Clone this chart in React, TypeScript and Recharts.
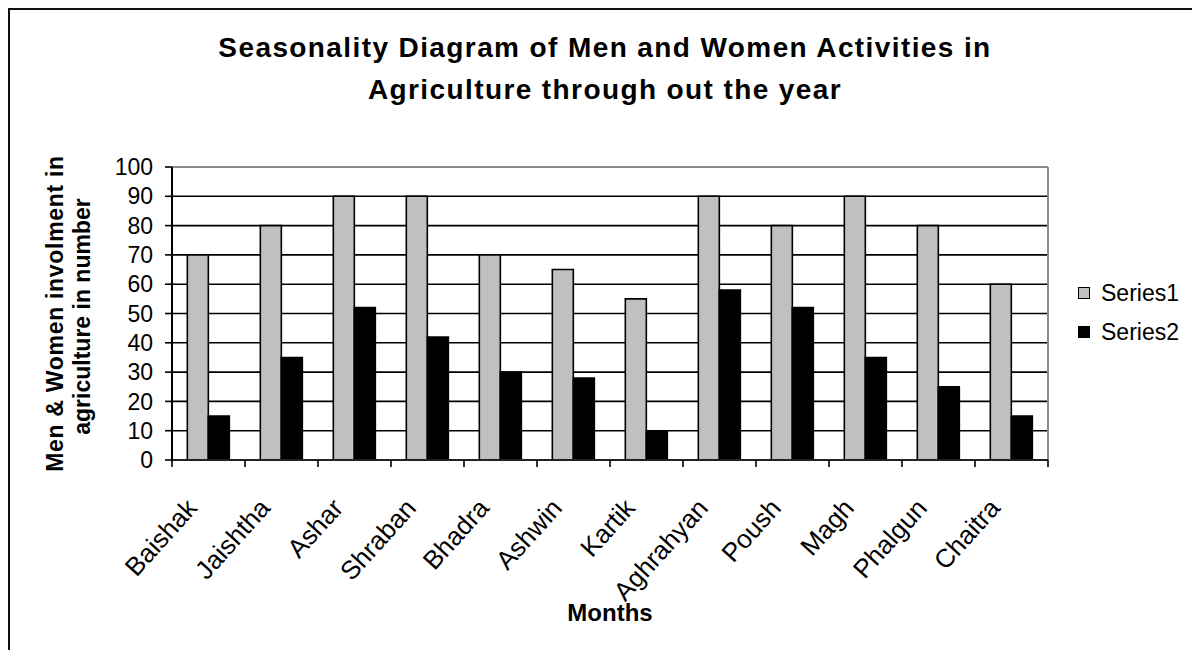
import React from 'react';
import { BarChart, Bar, XAxis, YAxis, CartesianGrid, ReferenceLine, Label } from 'recharts';

const MONTHS = ['Baishak', 'Jaishtha', 'Ashar', 'Shraban', 'Bhadra', 'Ashwin', 'Kartik', 'Aghrahyan', 'Poush', 'Magh', 'Phalgun', 'Chaitra'];
const SERIES1 = [70, 80, 90, 90, 70, 65, 55, 90, 80, 90, 80, 60];
const SERIES2 = [15, 35, 52, 42, 30, 28, 10, 58, 52, 35, 25, 15];
const Y_TICKS = [0, 10, 20, 30, 40, 50, 60, 70, 80, 90, 100];
const SERIES_NAMES = ['Series1', 'Series2'];
const SERIES_COLORS = ['#C0C0C0', '#000000'];
const TITLE_LINES = ['Seasonality Diagram of Men and Women Activities in', 'Agriculture through out the year'];
const Y_LABEL_LINES = ['Men & Women involment in', 'agriculture in number'];
const X_LABEL = 'Months';

const FONT = '"Liberation Sans", Arial, Helvetica, sans-serif';
const TICK_LEN = 7;

const data = MONTHS.map((m, i) => ({ month: m, s1: SERIES1[i], s2: SERIES2[i] }));

const XTick = (props: any) => {
  const { x, y, payload, index, visibleTicksCount, width } = props;
  const half = payload && typeof payload.offset === 'number' && payload.offset > 0
    ? payload.offset
    : width / (visibleTicksCount || 12) / 2;
  const y0 = y - TICK_LEN;
  const isLast = index === (visibleTicksCount || 12) - 1;
  return (
    <g>
      <line x1={x - half} x2={x - half} y1={y0} y2={y} stroke="#000" strokeWidth={1.6} />
      {isLast && <line x1={x + half} x2={x + half} y1={y0} y2={y} stroke="#000" strokeWidth={1.6} />}
      <g transform={`translate(${x - 10},${y + 42})`}>
        <text transform="rotate(-48)" textAnchor="end" fontSize={26} fill="#000" fontFamily={FONT}>
          {payload.value}
        </text>
      </g>
    </g>
  );
};

const YLabel = (props: any) => {
  const vb = props.viewBox || { x: 132, y: 167, width: 40, height: 293 };
  const cy = vb.y + vb.height / 2;
  const x1 = vb.x - 69;
  const x2 = vb.x - 42;
  return (
    <g>
      <text transform={`translate(${x1},${cy}) rotate(-90)`} textAnchor="middle" fontSize={23} fontWeight="bold" letterSpacing={0.7} fill="#000" fontFamily={FONT}>
        {Y_LABEL_LINES[0]}
      </text>
      <text transform={`translate(${x2},${cy + 3}) rotate(-90)`} textAnchor="middle" fontSize={23} fontWeight="bold" fill="#000" fontFamily={FONT}>
        {Y_LABEL_LINES[1]}
      </text>
    </g>
  );
};

const XLabel = (props: any) => {
  const vb = props.viewBox || { x: 172, y: 460, width: 876, height: 1 };
  return (
    <text x={vb.x + vb.width / 2} y={621} textAnchor="middle" fontSize={24} fontWeight="bold" fill="#000" fontFamily={FONT}>
      {X_LABEL}
    </text>
  );
};

const rightEdge = (p: any) => {
  const off = p && p.offset ? p.offset : { left: 172, width: 876 };
  return [off.left + off.width];
};

export default function App() {
  return (
    <div style={{ position: 'absolute', left: 0, top: 0, width: 1192, height: 650, background: '#fff', overflow: 'hidden', fontFamily: FONT }}>
      <div style={{ position: 'absolute', left: 8, top: 8, width: 1400, height: 900, borderLeft: '2px solid #111', borderTop: '2px solid #111' }} />
      <div style={{ position: 'absolute', left: 0, top: 0 }}>
        <BarChart
          width={1192}
          height={650}
          data={data}
          margin={{ top: 167, right: 144, bottom: 189, left: 132 }}
          barCategoryGap="21%"
          barGap={0}
        >
          <CartesianGrid horizontal vertical={false} stroke="#000" strokeWidth={1.6} />
          <CartesianGrid horizontal={false} vertical verticalCoordinatesGenerator={rightEdge} stroke="#8c8c8c" strokeWidth={2} />
          <XAxis
            dataKey="month"
            type="category"
            height={1}
            axisLine={{ stroke: '#222', strokeWidth: 2 }}
            tickLine={false}
            tickSize={TICK_LEN}
            tickMargin={0}
            interval={0}
            tick={XTick}
          >
            <Label content={XLabel} />
          </XAxis>
          <YAxis
            domain={[0, 100]}
            ticks={Y_TICKS}
            interval={0}
            width={40}
            axisLine={{ stroke: '#000', strokeWidth: 2 }}
            tickLine={{ stroke: '#000', strokeWidth: 1.6 }}
            tickSize={TICK_LEN}
            tickMargin={12}
            tick={{ fontSize: 23, fill: '#000', fontFamily: FONT }}
          >
            <Label content={YLabel} />
          </YAxis>
          <ReferenceLine y={100} stroke="#8c8c8c" strokeWidth={2} />
          <Bar dataKey="s1" name={SERIES_NAMES[0]} fill={SERIES_COLORS[0]} stroke="#000" strokeWidth={1.6} isAnimationActive={false} />
          <Bar dataKey="s2" name={SERIES_NAMES[1]} fill={SERIES_COLORS[1]} stroke="#000" strokeWidth={1.6} isAnimationActive={false} />
        </BarChart>
      </div>
      <svg width={1192} height={650} style={{ position: 'absolute', left: 0, top: 0, pointerEvents: 'none' }}>
        {TITLE_LINES.map((t, i) => (
          <text key={t} x={605} y={57 + i * 42} textAnchor="middle" fontSize={28} fontWeight="bold" letterSpacing={1.4} fill="#000" fontFamily={FONT}>
            {t}
          </text>
        ))}
      </svg>
      {SERIES_NAMES.map((n, i) => (
        <div key={n} style={{ position: 'absolute', left: 1078, top: 293 + i * 39 - 14, height: 28, display: 'flex', alignItems: 'center' }}>
          <div style={{ width: 10, height: 10, background: SERIES_COLORS[i], border: '1px solid #000' }} />
          <span style={{ marginLeft: 11, fontSize: 23, color: '#000', fontFamily: FONT, lineHeight: '28px' }}>{n}</span>
        </div>
      ))}
    </div>
  );
}
